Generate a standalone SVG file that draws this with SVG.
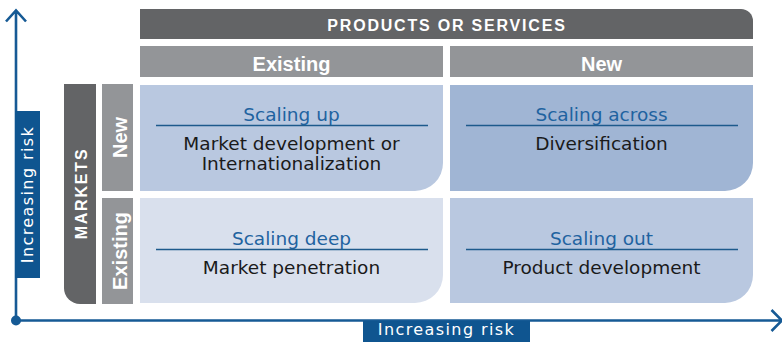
<svg xmlns="http://www.w3.org/2000/svg" width="782" height="342" viewBox="0 0 782 342">
<style>
.reg{font-family:"DejaVu Sans",sans-serif;font-size:18.5px;fill:#1a1a1a;text-anchor:middle}
.ttl{fill:#1f63a0}
.hdr{font-family:"Liberation Sans",Arial,sans-serif;font-weight:bold;fill:#ffffff;text-anchor:middle}
.big{font-size:20px}
.caps{font-size:16px;letter-spacing:1.8px}
.ax{stroke:#165a95;stroke-width:2.6;fill:none}
.axlbl{font-family:"DejaVu Sans",sans-serif;font-size:16px;letter-spacing:1.4px;fill:#ffffff;text-anchor:middle}
.sep{stroke:#1d5a8c;stroke-width:1.5}
</style>
<g id="axes">
<path class="ax" d="M16,320.5 V11 M6,21.5 L16,10.5 L26,21.5"/>
<path class="ax" d="M16,320.5 H781 M771.5,310 L782,320.5 L771.5,331"/>
<circle cx="16" cy="320.5" r="5" fill="#165a95"/>
<rect x="15" y="111" width="25" height="167" fill="#0f5590"/>
<text class="axlbl" transform="translate(33,194.5) rotate(-90)">Increasing risk</text>
<rect x="363" y="321" width="167" height="21" fill="#0f5590"/>
<text class="axlbl" x="446.5" y="334.5">Increasing risk</text>
</g>
<g id="products-header">
<path d="M140,9 H741 A12,12 0 0 1 753,21 V39 H140 Z" fill="#636466"/>
<text class="hdr caps" x="447" y="31">PRODUCTS OR SERVICES</text>
</g>
<g id="col-existing">
<rect x="140" y="46" width="303" height="31" fill="#939598"/>
<text class="hdr big" x="291.5" y="70.5">Existing</text>
</g>
<g id="col-new">
<rect x="450" y="46" width="303" height="31" fill="#939598"/>
<text class="hdr big" x="601.5" y="70.5">New</text>
</g>
<g id="markets-header">
<path d="M64,84 H96 V304 H80 A16,16 0 0 1 64,288 Z" fill="#636466"/>
<text class="hdr caps" transform="translate(87,193.5) rotate(-90)">MARKETS</text>
</g>
<g id="row-new">
<rect x="102" y="84" width="31" height="107" fill="#939598"/>
<text class="hdr big" transform="translate(126.5,137.5) rotate(-90)">New</text>
</g>
<g id="row-existing">
<rect x="102" y="198" width="31" height="106" fill="#939598"/>
<text class="hdr big" transform="translate(126.5,251) rotate(-90)">Existing</text>
</g>
<g id="scaling-up">
<path d="M140,85 H443 V163 A28,28 0 0 1 415,191 H140 Z" fill="#b9c8e0"/>
<text class="reg ttl" x="291.5" y="121">Scaling up</text>
<line class="sep" x1="156" y1="125.5" x2="428" y2="125.5"/>
<text class="reg" x="291.5" y="150">Market development or</text>
<text class="reg" x="291.5" y="170">Internationalization</text>
</g>
<g id="scaling-across">
<path d="M450,85 H753 V163 A28,28 0 0 1 725,191 H450 Z" fill="#a0b5d4"/>
<text class="reg ttl" x="601.5" y="121">Scaling across</text>
<line class="sep" x1="466" y1="125.5" x2="738" y2="125.5"/>
<text class="reg" x="601.5" y="150">Diversification</text>
</g>
<g id="scaling-deep">
<path d="M140,198 H443 V275 A28,28 0 0 1 415,303 H140 Z" fill="#d9e0ed"/>
<text class="reg ttl" x="291.5" y="244.5">Scaling deep</text>
<line class="sep" x1="156" y1="249.5" x2="428" y2="249.5"/>
<text class="reg" x="291.5" y="273.5">Market penetration</text>
</g>
<g id="scaling-out">
<path d="M450,198 H753 V275 A28,28 0 0 1 725,303 H450 Z" fill="#b9c8e0"/>
<text class="reg ttl" x="601.5" y="244.5">Scaling out</text>
<line class="sep" x1="466" y1="249.5" x2="738" y2="249.5"/>
<text class="reg" x="601.5" y="273.5">Product development</text>
</g>
<g id="connectors"></g>
</svg>
